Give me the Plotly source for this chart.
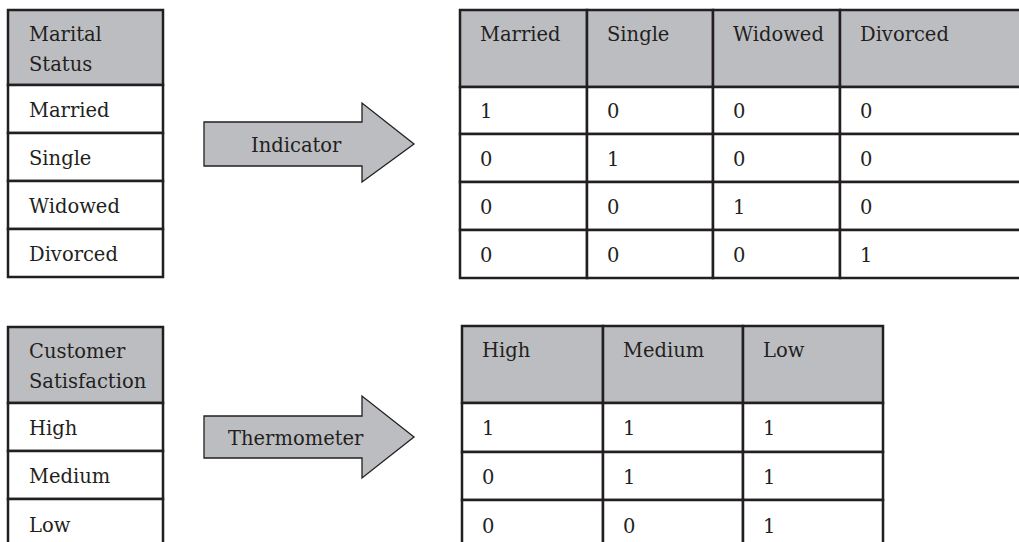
import plotly.graph_objects as go

# ---- data ----
marital_header = ["Marital", "Status"]
marital_status = ["Married", "Single", "Widowed", "Divorced"]
indicator_values = [[1, 0, 0, 0],
                    [0, 1, 0, 0],
                    [0, 0, 1, 0],
                    [0, 0, 0, 1]]
satisfaction_header = ["Customer", "Satisfaction"]
satisfaction = ["High", "Medium", "Low"]
thermometer_values = [[1, 1, 1],
                      [0, 1, 1],
                      [0, 0, 1]]
arrow_labels = ["Indicator", "Thermometer"]

# ---- style / layout ----
W, H = 1019, 542
LINE = "#231f20"
GRAY = "#bcbdc0"
FONT = dict(family="DejaVu Serif", size=19.5, color="#231f20")
LW = 2.5
PAD = 18

fig = go.Figure()
shapes = []
annots = []


def cell(x0, x1, y0, y1, fill):
    shapes.append(dict(type="rect", xref="x", yref="y", x0=x0, x1=x1, y0=y0, y1=y1,
                       fillcolor=fill, line=dict(color=LINE, width=LW), layer="below"))


def text(x, y, s, yanchor="middle"):
    annots.append(dict(x=x, y=y, xref="x", yref="y", text=s, showarrow=False,
                       xanchor="left", yanchor=yanchor, font=FONT, align="left"))


def source_table(x0, x1, ys, header_lines, labels):
    cell(x0, x1, ys[0], ys[1], GRAY)
    for k, line in enumerate(header_lines):
        text(x0 + PAD + 1, ys[0] + 24 + 30 * k, line)
    for i, lab in enumerate(labels):
        cell(x0, x1, ys[i + 1], ys[i + 2], "white")
        text(x0 + PAD + 1, (ys[i + 1] + ys[i + 2]) / 2 + 1, lab)


def coded_table(xs, ys, headers, values):
    for j, h in enumerate(headers):
        cell(xs[j], xs[j + 1], ys[0], ys[1], GRAY)
        text(xs[j] + PAD, ys[0] + 24, h)
    for i, row in enumerate(values):
        for j, v in enumerate(row):
            cell(xs[j], xs[j + 1], ys[i + 1], ys[i + 2], "white")
            text(xs[j] + PAD, (ys[i + 1] + ys[i + 2]) / 2 + 1, str(v))


def arrow(xl, xb, xt, ys0, ys1, yh0, yh1, label):
    yc = (ys0 + ys1) / 2
    path = (f"M {xl},{ys0} L {xb},{ys0} L {xb},{yh0} L {xt},{yc} L {xb},{yh1} "
            f"L {xb},{ys1} L {xl},{ys1} Z")
    shapes.append(dict(type="path", xref="x", yref="y", path=path, fillcolor=GRAY,
                       line=dict(color=LINE, width=1.3)))
    annots.append(dict(x=(xl + xb) / 2 + 13, y=yc + 1, xref="x", yref="y", text=label,
                       showarrow=False, xanchor="center", yanchor="middle", font=FONT))


# top block
source_table(8, 163, [10, 85, 133, 181, 229, 277], marital_header, marital_status)
arrow(204, 362, 414, 122, 166, 103, 182, arrow_labels[0])
coded_table([460, 587, 713, 840, 1040], [10, 87, 134, 182, 230, 278],
            marital_status, indicator_values)

# bottom block
source_table(8, 163, [327, 403, 451, 499, 550], satisfaction_header, satisfaction)
arrow(204, 362, 414, 416, 458, 396, 478, arrow_labels[1])
coded_table([462, 603, 743, 883], [326, 403, 452, 500, 550],
            satisfaction, thermometer_values)

fig.update_layout(
    width=W, height=H,
    margin=dict(l=0, r=0, t=0, b=0),
    paper_bgcolor="white", plot_bgcolor="white",
    font=FONT,
    xaxis=dict(range=[0, W], visible=False, fixedrange=True),
    yaxis=dict(range=[H, 0], visible=False, fixedrange=True),
    shapes=shapes, annotations=annots, showlegend=False,
)

fig.write_html(
    "out.html",
    config={"displayModeBar": False},
    post_script="document.body.style.margin='0';document.body.style.overflow='hidden';",
)
